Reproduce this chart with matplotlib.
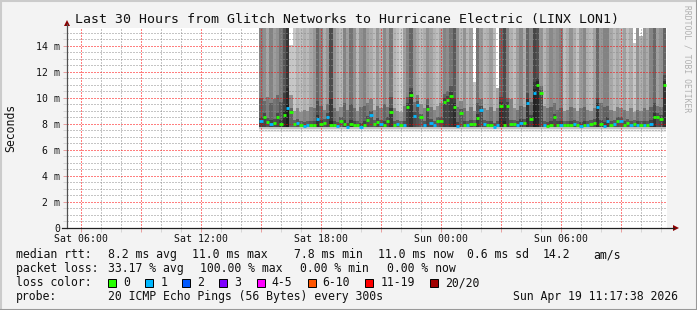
import matplotlib
matplotlib.use("Agg")
import matplotlib.pyplot as plt
from matplotlib.lines import Line2D
from matplotlib.patches import Rectangle, Polygon
import numpy as np

W, H = 697, 310
plt.rcParams["font.family"] = "DejaVu Sans Mono"

# --- data: 10 min columns starting Sat 14:55 ---
first_sample = 14 + 55 / 60          # hours since Sat 00:00
step_h = 10 / 60
median_ms = [
    8.2, 8.55, 8.15, 8.0, 8.1, 8.55, 8.0, 8.7, 9.25, 8.9,
    8.0, 8.05, 7.95, 7.87, 7.9, 7.95, 7.95, 8.4, 8.0, 8.1,
    8.55, 7.95, 7.9, 7.85, 8.2, 8.0, 7.8, 8.0, 7.95, 7.95,
    7.8, 7.95, 8.3, 8.7, 8.0, 8.15, 8.0, 7.95, 8.25, 8.95,
    7.95, 8.0, 7.9, 7.95, 9.33, 10.23, 8.6, 9.46, 8.5, 7.9,
    9.15, 8.1, 7.9, 8.2, 8.2, 9.7, 9.85, 10.18, 9.3, 7.85,
    8.85, 7.95, 7.95, 8.0, 8.0, 8.46, 9.08, 8.0, 7.95, 7.9,
    7.8, 7.9, 9.38, 7.95, 9.38, 8.0, 8.0, 7.9, 8.1, 8.1,
    9.6, 8.4, 10.38, 11.0, 10.35, 7.95, 7.85, 7.9, 8.5, 7.95,
    7.9, 7.95, 7.95, 7.95, 8.0, 7.9, 7.85, 7.95, 7.95, 8.0,
    8.05, 9.33, 8.0, 7.85, 8.2, 7.95, 8.0, 8.2, 8.2, 7.95,
    8.05, 7.9, 8.0, 7.9, 7.9, 7.9, 7.9, 8.0, 8.55, 8.55, 8.4, 11.0,
]
lost_pings = [
    1, 0, 0, 1, 0, 0, 0, 0, 1, 0,
    0, 1, 0, 1, 1, 0, 0, 1, 0, 0,
    1, 0, 0, 1, 0, 0, 1, 0, 0, 0,
    1, 0, 0, 1, 0, 0, 1, 0, 0, 0,
    0, 1, 0, 1, 0, 0, 1, 1, 0, 1,
    0, 1, 1, 0, 0, 0, 0, 0, 0, 1,
    0, 0, 1, 0, 0, 0, 1, 1, 0, 0,
    1, 1, 0, 0, 0, 0, 0, 1, 1, 0,
    1, 0, 1, 0, 0, 1, 0, 0, 0, 0,
    1, 0, 0, 0, 1, 0, 1, 0, 1, 0,
    0, 1, 0, 1, 1, 0, 1, 0, 1, 0,
    0, 1, 0, 1, 0, 1, 0, 1, 0, 0, 0, 0,
]
# grey level (0-255) of the upper smoke in each column
smoke_gray = [
    140, 150, 176, 138, 165, 154, 124, 90, 58, 208,
    210, 188, 200, 184, 196, 176, 160, 110, 142, 181,
    160, 80, 156, 178, 192, 138, 168, 122, 154, 194,
    155, 138, 168, 180, 198, 160, 186, 144, 168, 126,
    188, 200, 216, 166, 140, 106, 158, 176, 196, 182,
    152, 168, 189, 200, 176, 138, 149, 122, 94, 150,
    188, 154, 192, 168, 205, 122, 160, 192, 184, 164,
    196, 176, 110, 78, 138, 184, 200, 166, 142, 180,
    106, 140, 74, 85, 156, 190, 168, 144, 160, 150,
    138, 200, 184, 154, 180, 204, 164, 142, 184, 194,
    170, 110, 160, 138, 138, 176, 196, 176, 190, 168,
    200, 180, 208, 156, 184, 160, 180, 140, 110, 168, 154, 106,
]
# where the dense (darker) part of the smoke ends
dark_top_ms = [
    10.0, 9.8, 10.1, 9.6, 9.9, 10.2, 9.7, 10.4, 10.8, 10.2,
    9.0, 9.2, 8.9, 9.1, 9.0, 9.3, 9.2, 9.8, 9.4, 9.1,
    9.5, 9.9, 9.2, 9.0, 9.3, 9.6, 9.1, 9.5, 9.2, 9.0,
    9.3, 9.4, 9.6, 9.9, 9.1, 9.4, 9.2, 9.5, 9.3, 10.1,
    9.2, 9.0, 8.9, 9.4, 10.1, 10.8, 9.7, 10.2, 9.5, 9.2,
    9.9, 9.3, 9.1, 9.4, 9.6, 10.3, 10.5, 10.9, 10.0, 9.3,
    9.8, 9.2, 9.0, 9.3, 9.0, 9.6, 9.9, 9.2, 9.1, 9.3,
    9.0, 9.2, 10.1, 9.5, 10.0, 9.9, 9.2, 9.1, 9.4, 9.3,
    10.4, 9.7, 11.2, 11.5, 10.9, 9.4, 9.2, 9.3, 9.6, 9.1,
    9.2, 9.0, 9.1, 9.3, 9.2, 9.0, 9.2, 9.3, 9.1, 9.0,
    9.2, 10.0, 9.6, 9.3, 9.4, 9.1, 9.0, 9.3, 9.2, 9.1,
    9.0, 9.2, 8.9, 9.1, 9.0, 9.2, 9.1, 9.3, 9.6, 9.4, 9.3, 11.8,
]
# columns whose smoke stops below the top of the graph
gap_cols = [9, 64, 71, 112, 114]
gap_top_ms = [14.1, 11.2, 10.8, 14.2, 14.8]

x_ticks_h = [6, 12, 18, 24, 30]
x_tick_labels = ["Sat 06:00", "Sat 12:00", "Sat 18:00", "Sun 00:00", "Sun 06:00"]
y_ticks_ms = [0, 2, 4, 6, 8, 10, 12, 14]
y_tick_labels = ["0", "2 m", "4 m", "6 m", "8 m", "10 m", "12 m", "14 m"]

loss_labels = ["0", "1", "2", "3", "4-5", "6-10", "11-19", "20/20"]
loss_colors = ["#26ff00", "#00b8ff", "#0059ff", "#7e00ff",
               "#ff00ff", "#ff5500", "#ff0000", "#a10000"]

end_h = 35 + 17 / 60 + 38 / 3600      # Sun 11:17:38
start_h = end_h - 30
y_top = 15.38


def px(x, y):
    return x / W, 1 - y / H


def shade(vals, f):
    return [(v * f, v * f, v * f) for v in vals]


fig = plt.figure(figsize=(W / 100, H / 100), dpi=100, facecolor="#f3f3f3")
ax = fig.add_axes([67 / W, (H - 228) / H, 600 / W, 200 / H])
ax.set_facecolor("white")

n = len(median_ms)
t = first_sample + step_h * np.arange(n)
med = np.array(median_ms)
top = np.full(n, 40.0)
top[gap_cols] = gap_top_ms
g = np.array(smoke_gray) / 255.0 * 0.95
dark_top = np.array(dark_top_ms)
core_top = np.minimum(med + 0.3, dark_top)

kw = dict(width=step_h, align="edge", linewidth=0, antialiased=False)
ax.bar(t, 0.2, bottom=7.4, color="#e8e8e8", **kw)
ax.bar(t, 0.15, bottom=7.6, color="#c2c2c2", **kw)
ax.bar(t, core_top - 7.75, bottom=7.75, color=shade(g, 0.5), **kw)
ax.bar(t, dark_top - core_top, bottom=core_top, color=shade(g, 0.74), **kw)
ax.bar(t, top - dark_top, bottom=dark_top, color=shade(g, 1.0), **kw)
# white above the smoke where it ends early
ax.bar(t[gap_cols], y_top + 1 - top[gap_cols], bottom=top[gap_cols], color="white", **kw)

ax.hlines(med, t, t + step_h, colors=[loss_colors[l] for l in lost_pings],
          lw=2.0, zorder=4)

ax.set_xlim(start_h, end_h)
ax.set_ylim(0, y_top)

major_x = np.arange(6, 34, 3)
lab = dict(zip(x_ticks_h, x_tick_labels))
ax.set_xticks(major_x, [lab.get(h, "") for h in major_x])
ax.set_xticks(np.arange(6, 36, 1), minor=True)
ax.set_yticks(y_ticks_ms, y_tick_labels)
ax.set_yticks(np.arange(0, 15.5, 0.5), minor=True)
ax.set_axisbelow(False)
ax.grid(which="major", color=(1, 0, 0, 0.24), ls=(0, (1, 2)), lw=0.72)
ax.grid(which="minor", color=(0.55, 0.55, 0.55, 0.33), ls=(0, (1, 2)), lw=0.72)
ax.tick_params(which="major", length=3, width=0.72, color="#e8a0a0", pad=2,
               labelsize=7.1, labelcolor="#111111")
ax.tick_params(which="minor", length=3, width=0.72, color="#d6d6d6")
ax.tick_params(axis="x", pad=1.5)
for s in ax.spines.values():
    s.set_visible(False)

# axes + arrows
fig.add_artist(Line2D(*zip(px(67, 228), px(67, 24)), color="#505050", lw=0.9))
fig.add_artist(Line2D(*zip(px(62, 228), px(674, 228)), color="#202020", lw=0.9))
fig.add_artist(Polygon([px(64, 26), px(70, 26), px(67, 20)], closed=True,
                       transform=fig.transFigure, color="#8b0000", lw=0))
fig.add_artist(Polygon([px(673, 225), px(673, 231), px(679, 228)], closed=True,
                       transform=fig.transFigure, color="#8b0000", lw=0))

# title, axis label, watermark
fig.text(*px(347, 19), "Last 30 Hours from Glitch Networks to Hurricane Electric (LINX LON1)",
         fontsize=9.5, ha="center", va="center", color="#111111")
fig.text(*px(11, 128), "Seconds", fontsize=8.3, rotation=90, ha="center", va="center",
         color="#111111")
fig.text(*px(687, 5), "RRDTOOL / TOBI OETIKER", fontsize=5.8, rotation=270,
         ha="center", va="top", color="#b0b0b0")

# legend block
fs = 8.3
rows = [
    (254.5, [(16, "median rtt:"), (107.6, "8.2 ms avg"), (192.4, "11.0 ms max"),
             (293.8, "7.8 ms min"), (377.5, "11.0 ms now"), (467, "0.6 ms sd"),
             (543, "14.2"), (593, "am/s")]),
    (268.5, [(16, "packet loss:"), (107.6, "33.17 % avg"), (200.4, "100.00 % max"),
             (300.4, "0.00 % min"), (386.7, "0.00 % now")]),
    (282.5, [(16, "loss color:")]),
    (296.5, [(16, "probe:"), (107.6, "20 ICMP Echo Pings (56 Bytes) every 300s"),
             (513.3, "Sun Apr 19 11:17:38 2026")]),
]
for y, items in rows:
    for x, s in items:
        fig.text(*px(x, y), s, fontsize=fs, ha="left", va="center", color="#111111")

box_x = [108, 145.3, 182.2, 219.1, 256.9, 307.6, 365.3, 430.2]
for bx, lbl, c in zip(box_x, loss_labels, loss_colors):
    x0, y0 = px(bx, 286.5)
    fig.add_artist(Rectangle((x0, y0), 8 / W, 8 / H, transform=fig.transFigure,
                             facecolor=c, edgecolor="black", lw=0.7))
    fig.text(*px(bx + 15, 282.5), lbl, fontsize=fs, ha="left", va="center", color="#111111")

# frame
fig.add_artist(Line2D(*zip(px(0, 0.5), px(697, 0.5)), color="#cbcbcb", lw=1.5))
fig.add_artist(Line2D(*zip(px(0.5, 0), px(0.5, 310)), color="#cbcbcb", lw=1.5))
fig.add_artist(Line2D(*zip(px(0, 309.5), px(697, 309.5)), color="#999999", lw=1.5))
fig.add_artist(Line2D(*zip(px(696.5, 0), px(696.5, 310)), color="#999999", lw=1.5))

fig.savefig("out.png", dpi=100, facecolor=fig.get_facecolor())
